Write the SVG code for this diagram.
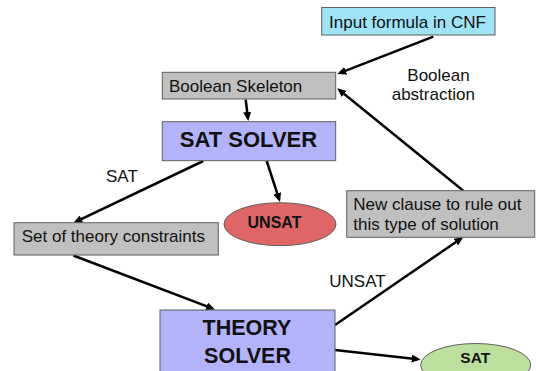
<svg xmlns="http://www.w3.org/2000/svg" width="536" height="371" viewBox="0 0 536 371">
<style>
.box{stroke:#5f5f5f;stroke-width:1}
.gray{fill:#c0c0c0}
.blue{fill:#b3b3fc}
.cyan{fill:#9fe3f7}
.red{fill:#de6666}
.green{fill:#bddf9e}
.t{font-family:"Liberation Sans",Arial,sans-serif;font-size:17px;fill:#111}
.b{font-family:"Liberation Sans",Arial,sans-serif;font-weight:bold;fill:#111}
.c{text-anchor:middle}
.conn line{stroke:#000;stroke-width:2.5;marker-end:url(#ah)}
</style>
<defs>
<marker id="ah" markerUnits="userSpaceOnUse" markerWidth="9" markerHeight="8" refX="6" refY="4" orient="auto">
<path d="M0,0 L9,4 L0,8 z" fill="#000"/>
</marker>
</defs>
<rect width="536" height="371" fill="#fff"/>
<g id="connectors" class="conn">
<line x1="433.3" y1="36.7" x2="340.1" y2="72.9"/>
<line x1="245.7" y1="99.5" x2="247.9" y2="118"/>
<line x1="203.3" y1="161" x2="76" y2="221.7"/>
<line x1="266.7" y1="161" x2="279.1" y2="199.1"/>
<line x1="73.3" y1="255.5" x2="212.2" y2="308.4"/>
<line x1="335" y1="325" x2="460.8" y2="238.7"/>
<line x1="335" y1="350" x2="417.7" y2="359.2"/>
<line x1="463.3" y1="190.7" x2="339.6" y2="90.2"/>
</g>
<g id="input">
<rect class="box cyan" x="321.7" y="7.5" width="173.3" height="27.5"/>
<text class="t c" x="407.5" y="27.7">Input formula in CNF</text>
</g>
<g id="skeleton">
<rect class="box gray" x="162.3" y="72.3" width="173.4" height="26.7"/>
<text class="t" x="169" y="91.7">Boolean Skeleton</text>
</g>
<g id="satsolver">
<rect class="box blue" x="162.3" y="121.7" width="173.4" height="39"/>
<text class="b c" x="248.5" y="147.3" font-size="22">SAT SOLVER</text>
</g>
<g id="constraints">
<rect class="box gray" x="14" y="222.7" width="204.3" height="32.3"/>
<text class="t" x="21.7" y="242.3">Set of theory constraints</text>
</g>
<g id="newclause">
<rect class="box gray" x="346.7" y="190.7" width="188" height="46.6"/>
<text class="t" x="353.3" y="210">New clause to rule out</text>
<text class="t" x="353.3" y="230">this type of solution</text>
</g>
<g id="theorysolver">
<rect class="box blue" x="160" y="310" width="175" height="70"/>
<text class="b c" x="247" y="335" font-size="21.5">THEORY</text>
<text class="b c" x="247.5" y="362.7" font-size="21.5">SOLVER</text>
</g>
<g id="unsat">
<ellipse class="box red" cx="280" cy="224.2" rx="56" ry="21.5"/>
<text class="b c" x="274.5" y="228.3" font-size="16">UNSAT</text>
</g>
<g id="sat">
<ellipse class="box green" cx="475.7" cy="365" rx="55" ry="21.5"/>
<text class="b c" x="475.3" y="363.3" font-size="15.5">SAT</text>
</g>
<g id="labels">
<text class="t" x="106" y="181.7" font-size="16">SAT</text>
<text class="t" x="329.3" y="286.7" font-size="16">UNSAT</text>
<text class="t" x="407.3" y="80.7">Boolean</text>
<text class="t" x="391.7" y="100">abstraction</text>
</g>
</svg>
